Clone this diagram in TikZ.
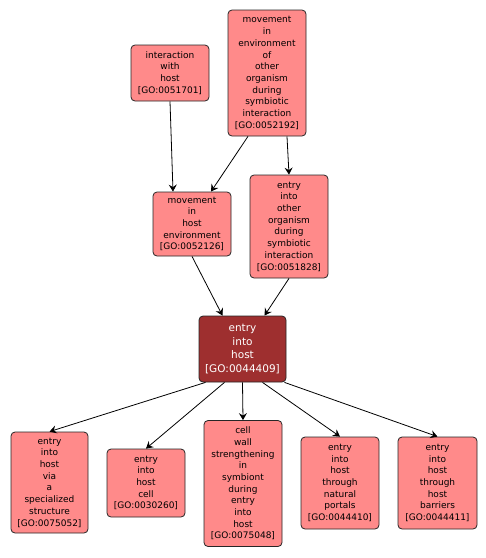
\documentclass[tikz,border=0pt]{standalone}
\usepackage{fontspec}
\setmainfont{DejaVu Sans}
\usetikzlibrary{arrows.meta}
\definecolor{termfill}{HTML}{FF8A8A}
\definecolor{focusfill}{HTML}{9E2F2F}
\tikzset{
    term/.style={draw=black!85, fill=termfill, rounded corners=4pt, align=center,
        inner sep=0pt, line width=0.8pt, font=\fontsize{9}{11.7}\selectfont},
    focus/.style={term, fill=focusfill, text=white, font=\fontsize{10.5}{13.7}\selectfont},
    link/.style={-{Stealth[length=7pt,width=8pt,inset=2.5pt]}, line width=0.8pt}
}
\begin{document}
\begin{tikzpicture}[x=1pt, y=-1pt]
    \useasboundingbox (0,0) rectangle (486,558);

    % Obere Ebene
    \node[term, minimum width=78pt, minimum height=56pt] (n51701) at (170,73)
        {interaction\\with\\host\\{[}GO:0051701{]}};
    \node[term, minimum width=78pt, minimum height=126pt] (n52192) at (267,73)
        {movement\\in\\environment\\of\\other\\organism\\during\\symbiotic\\interaction\\{[}GO:0052192{]}};

    % Mittlere Ebene
    \node[term, minimum width=78pt, minimum height=64pt] (n52126) at (192,224)
        {movement\\in\\host\\environment\\{[}GO:0052126{]}};
    \node[term, minimum width=78pt, minimum height=103pt] (n51828) at (289,226.5)
        {entry\\into\\other\\organism\\during\\symbiotic\\interaction\\{[}GO:0051828{]}};

    % Zentraler Begriff
    \node[focus, minimum width=87pt, minimum height=66pt] (n44409) at (242.5,349)
        {entry\\into\\host\\{[}GO:0044409{]}};

    % Untere Ebene
    \node[term, minimum width=77pt, minimum height=101pt] (n75052) at (49.5,482.5)
        {entry\\into\\host\\via\\a\\specialized\\structure\\{[}GO:0075052{]}};
    \node[term, minimum width=78pt, minimum height=68pt] (n30260) at (146,483)
        {entry\\into\\host\\cell\\{[}GO:0030260{]}};
    \node[term, minimum width=78pt, minimum height=126pt] (n75048) at (243,483.5)
        {cell\\wall\\strengthening\\in\\symbiont\\during\\entry\\into\\host\\{[}GO:0075048{]}};
    \node[term, minimum width=78pt, minimum height=92pt] (n44410) at (340,483)
        {entry\\into\\host\\through\\natural\\portals\\{[}GO:0044410{]}};
    \node[term, minimum width=79pt, minimum height=92pt] (n44411) at (437.5,483)
        {entry\\into\\host\\through\\host\\barriers\\{[}GO:0044411{]}};

    % Kanten
    \draw[link] (n51701.south) -- ([xshift=-19pt]n52126.north);
    \draw[link] ([xshift=-19pt]n52192.south) -- ([xshift=19pt]n52126.north);
    \draw[link] ([xshift=20pt]n52192.south) -- (n51828.north);
    \draw[link] (n52126.south) -- ([xshift=-20pt]n44409.north);
    \draw[link] (n51828.south) -- ([xshift=22pt]n44409.north);
    \draw[link] ([xshift=-37pt]n44409.south) -- (n75052.north);
    \draw[link] ([xshift=-18pt]n44409.south) -- (n30260.north);
    \draw[link] (n44409.south) -- (n75048.north);
    \draw[link] ([xshift=20pt]n44409.south) -- (n44410.north);
    \draw[link] ([xshift=42pt]n44409.south) -- (n44411.north);
\end{tikzpicture}
\end{document}
